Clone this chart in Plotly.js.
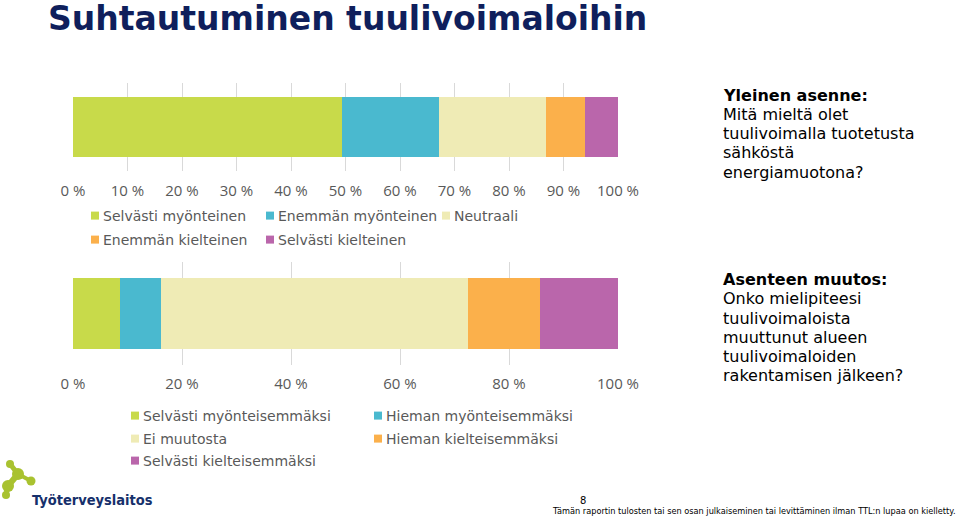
<!DOCTYPE html>
<html>
<head>
<meta charset="utf-8">
<script src="https://cdn.plot.ly/plotly-3.0.1.min.js"></script>
<style>
html,body{margin:0;padding:0;background:#fff;}
#chart{width:959px;height:517px;}
</style>
</head>
<body>
<div id="chart"></div>
<script>
// ---- data ----
const cats1 = ['Selvästi myönteinen', 'Enemmän myönteinen', 'Neutraali', 'Enemmän kielteinen', 'Selvästi kielteinen'];
const vals1 = [49.4, 17.7, 19.7, 7.2, 6.0];
const cats2 = ['Selvästi myönteisemmäksi', 'Hieman myönteisemmäksi', 'Ei muutosta', 'Hieman kielteisemmäksi', 'Selvästi kielteisemmäksi'];
const vals2 = [8.6, 7.6, 56.3, 13.2, 14.3];
const colors = ['#c8da4a', '#4ab9cf', '#efebb5', '#fbb04b', '#ba66ab'];
const title = 'Suhtautuminen tuulivoimaloihin';
const q1Lines = ['<b>Yleinen asenne:</b>', 'Mitä mieltä olet', 'tuulivoimalla tuotetusta', 'sähköstä', 'energiamuotona?'];
const q2Lines = ['<b>Asenteen muutos:</b>', 'Onko mielipiteesi', 'tuulivoimaloista', 'muuttunut alueen', 'tuulivoimaloiden', 'rakentamisen jälkeen?'];
const footer = 'Tämän raportin tulosten tai sen osan julkaiseminen tai levittäminen ilman TTL:n lupaa on kielletty.';
const pageNo = '8';
const logoText = 'Työterveyslaitos';

// ---- layout helpers (pixel -> paper) ----
const W = 959, H = 517;
const px = v => v / W;
const py = v => 1 - v / H;

const leg1X = [103, 278, 454, 103, 278];
const leg1Y = [216, 216, 216, 240, 240];
const leg2X = [143, 386, 143, 386, 143];
const leg2Y = [416, 416, 439, 439, 461];
const TEXT_OFF = 40;

const traces = [];
const tickFont = {family: 'Open Sans, Liberation Sans, sans-serif', size: 15, color: '#595959'};
const layout = {
  width: W, height: H,
  margin: {l: 0, r: 0, t: 0, b: 0, autoexpand: false},
  paper_bgcolor: '#ffffff', plot_bgcolor: 'rgba(0,0,0,0)',
  barmode: 'stack', bargap: 0.32,
  showlegend: true,
  font: {family: 'DejaVu Sans, Verdana, sans-serif', color: '#595959'},
  xaxis: {domain: [px(73), px(618)], range: [0, 100], dtick: 10, ticksuffix: ' %',
    showgrid: true, gridcolor: '#d9d9d9', gridwidth: 1, zeroline: false, showline: false,
    ticks: '', ticklabelstandoff: 9, anchor: 'y', automargin: false,
    tickfont: tickFont, fixedrange: true},
  yaxis: {domain: [py(171), py(83)], range: [-0.5, 0.5], showticklabels: false, showgrid: false,
    zeroline: false, showline: false, anchor: 'x', fixedrange: true, automargin: false},
  xaxis2: {domain: [px(73), px(618)], range: [0, 100], dtick: 20, ticksuffix: ' %',
    showgrid: true, gridcolor: '#d9d9d9', gridwidth: 1, zeroline: false, showline: false,
    ticks: '', ticklabelstandoff: 8, anchor: 'y2', automargin: false,
    tickfont: tickFont, fixedrange: true},
  yaxis2: {domain: [py(365), py(262)], range: [-0.5, 0.5], showticklabels: false, showgrid: false,
    zeroline: false, showline: false, anchor: 'x2', fixedrange: true, automargin: false},
  annotations: [],
  shapes: []
};

function legendName(i) { return 'legend' + (i + 2); }
function legendBox(x, y) {
  return {xref: 'container', yref: 'container', x: px(x - TEXT_OFF), y: py(y),
    xanchor: 'left', yanchor: 'middle', orientation: 'h', bgcolor: 'rgba(0,0,0,0)', borderwidth: 0,
    font: {family: 'DejaVu Sans, Verdana, sans-serif', size: 14, color: '#595959'}};
}

cats1.forEach((c, i) => {
  const ln = legendName(i);
  traces.push({type: 'bar', orientation: 'h', name: c, x: [vals1[i]], y: ['q'],
    xaxis: 'x', yaxis: 'y', marker: {color: colors[i], line: {width: 0}}, legend: ln,
    showlegend: true, hoverinfo: 'name+x'});
  layout[ln] = legendBox(leg1X[i], leg1Y[i]);
});
cats2.forEach((c, i) => {
  const ln = legendName(i + 5);
  traces.push({type: 'bar', orientation: 'h', name: c, x: [vals2[i]], y: ['q'],
    xaxis: 'x2', yaxis: 'y2', marker: {color: colors[i], line: {width: 0}}, legend: ln,
    showlegend: true, hoverinfo: 'name+x'});
  layout[ln] = legendBox(leg2X[i], leg2Y[i]);
});

// title
layout.annotations.push({text: '<b>' + title + '</b>', xref: 'paper', yref: 'paper', x: px(47), y: py(18.5),
  xanchor: 'left', yanchor: 'middle', showarrow: false, borderpad: 0,
  font: {family: 'DejaVu Sans, Verdana, sans-serif', size: 33, color: '#0f1f5c'}});

// question texts
const q1Y = [95, 114, 133, 152, 172];
const q2Y = [279, 298, 318, 337, 356, 375];
q1Lines.forEach((t, i) => layout.annotations.push({text: t, xref: 'paper', yref: 'paper', x: px(721), y: py(q1Y[i]),
  xanchor: 'left', yanchor: 'middle', showarrow: false,
  font: {family: 'DejaVu Sans, Verdana, sans-serif', size: 16, color: '#000000'}}));
q2Lines.forEach((t, i) => layout.annotations.push({text: t, xref: 'paper', yref: 'paper', x: px(721), y: py(q2Y[i]),
  xanchor: 'left', yanchor: 'middle', showarrow: false,
  font: {family: 'DejaVu Sans, Verdana, sans-serif', size: 16, color: '#000000'}}));

// footer
layout.annotations.push({text: pageNo, xref: 'paper', yref: 'paper', x: px(583), y: py(500),
  xanchor: 'center', yanchor: 'middle', showarrow: false,
  font: {family: 'DejaVu Sans, Verdana, sans-serif', size: 10, color: '#000000'}});
layout.annotations.push({text: footer, xref: 'paper', yref: 'paper', x: px(754), y: py(511),
  xanchor: 'center', yanchor: 'middle', showarrow: false, borderpad: 0,
  font: {family: 'DejaVu Sans, Verdana, sans-serif', size: 8.2, color: '#000000'}});

// logo
layout.annotations.push({text: '<b>' + logoText + '</b>', xref: 'paper', yref: 'paper', x: px(30), y: py(500),
  xanchor: 'left', yanchor: 'middle', showarrow: false,
  font: {family: 'DejaVu Sans Condensed, DejaVu Sans, sans-serif', size: 14.5, color: '#16306b'}});
const logoGreen = '#a9c230';
const circ = (cx, cy, r) => ({type: 'circle', xref: 'paper', yref: 'paper', x0: px(cx - r), x1: px(cx + r),
  y0: py(cy + r), y1: py(cy - r), fillcolor: logoGreen, line: {width: 0}, layer: 'above'});
const seg = (xa, ya, xb, yb, w) => ({type: 'line', xref: 'paper', yref: 'paper', x0: px(xa), y0: py(ya),
  x1: px(xb), y1: py(yb), line: {color: logoGreen, width: w}, layer: 'above'});
layout.shapes.push(circ(10, 464, 4), circ(18, 474, 6), circ(31, 481, 4.5), circ(8, 486, 6), circ(6, 495, 4),
  seg(10, 464, 18, 474, 5), seg(18, 474, 31, 481, 4), seg(18, 474, 8, 486, 6), seg(8, 486, 6, 495, 5));

// smaller legend squares placed close to their labels, as in the reference
function tidyLegendSymbols() {
  document.querySelectorAll('#chart g.legendpoints path').forEach(p => {
    p.setAttribute('d', 'M4,4H-4V-4H4Z');
    p.setAttribute('transform', 'translate(32,0)');
  });
}
Plotly.newPlot('chart', traces, layout, {displayModeBar: false, responsive: false}).then(gd => {
  tidyLegendSymbols();
  gd.on('plotly_afterplot', tidyLegendSymbols);
});
</script>
</body>
</html>
